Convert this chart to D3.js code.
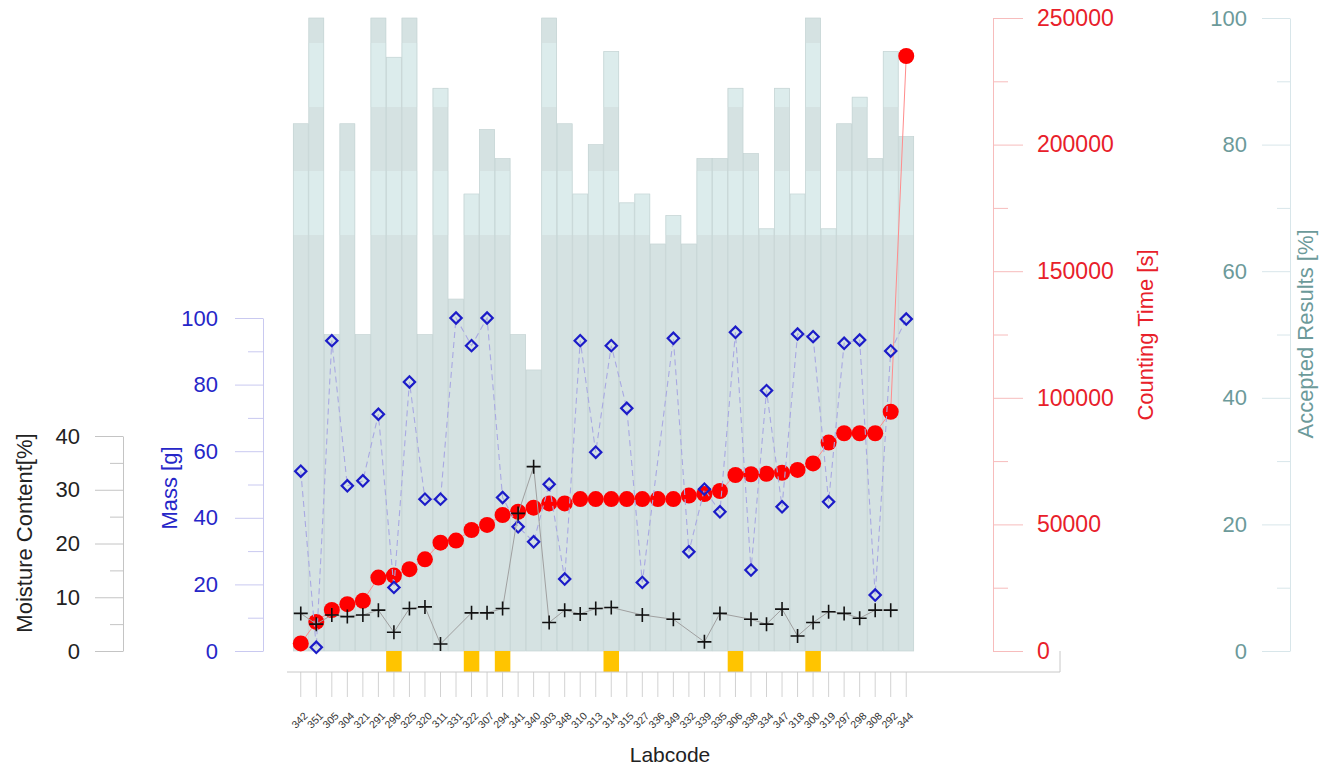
<!DOCTYPE html>
<html>
<head>
<meta charset="utf-8">
<script src="https://cdn.jsdelivr.net/npm/d3@7"></script>
<style>
  html, body { margin: 0; padding: 0; background: #fff; }
  svg { display: block; font-family: "Liberation Sans", Arial, sans-serif; }
</style>
</head>
<body>
<svg id="chart" width="1331" height="768"></svg>
<script>
// Laboratory codes, in the order they are plotted
const labcodes = ["342","351","305","304","321","291","296","325","320","311","331","322","307","294","341","340","303","348","310","313",
                  "314","315","327","336","349","332","339","335","306","338","334","347","318","300","319","297","298","308","292","344"];

// Accepted results per laboratory [%]
const accepted = [83.3,100,50,83.3,50,100,93.8,100,50,88.9,55.6,72.2,82.4,77.8,50,44.4,100,83.3,72.2,80,
                  94.7,70.8,72.2,64.3,68.8,64.3,77.8,77.8,88.9,78.6,66.7,88.9,72.2,100,66.7,83.3,87.5,77.8,94.7,81.3];

// Counting time [s]
const countingTime = [3000,11500,16200,18500,19800,29000,29800,32300,36200,42800,43600,47800,49800,53700,55000,56600,58300,58300,60000,60000,
                      60000,60000,60000,60000,60000,61400,62000,63200,69500,69800,70000,70400,71500,74100,82300,86000,86000,86000,94500,235000];

// Sample mass [g] (null = not reported)
const mass = [54.0,1.1,93.2,49.6,51.1,71.1,19.1,80.8,45.6,45.6,100,91.7,100,46.1,37.3,32.8,50.1,21.6,93.2,59.7,
              91.7,72.9,20.6,null,93.9,29.8,48.6,41.8,95.7,24.3,78.2,43.3,95.2,94.4,44.8,92.4,93.4,16.8,90.1,99.7];

// Moisture content [%] (null = not reported)
const moisture = [7.0,5.0,6.7,6.4,6.7,7.6,3.5,7.9,8.2,1.3,null,7.1,7.1,7.9,25.6,34.3,5.3,7.6,6.9,7.9,
                  8.1,null,6.7,null,5.9,null,1.7,7.0,null,5.9,5.0,7.8,2.8,5.3,7.3,7.0,6.1,7.6,7.6,null];

// Laboratories marked on the category axis
const flagged = ["296","322","294","314","306","300"];

// Axis ticks
const moistureTicks = [0,10,20,30,40], moistureMinor = [5,15,25,35];
const massTicks = [0,20,40,60,80,100], massMinor = [10,30,50,70,90];
const timeTicks = [0,50000,100000,150000,200000,250000], timeMinor = [25000,75000,125000,175000,225000];
const accTicks = [0,20,40,60,80,100], accMinor = [10,30,50,70,90];

const svg = d3.select("#chart");

const x = d3.scaleBand().domain(labcodes).range([293, 914]).padding(0);
const yAcc = d3.scaleLinear().domain([0, 100]).range([651, 18]);
const yTime = d3.scaleLinear().domain([0, 250000]).range([651, 18]);
const yMass = d3.scaleLinear().domain([0, 100]).range([651, 318]);
const yMoist = d3.scaleLinear().domain([0, 40]).range([651, 436]);

const cx = d => x(d) + x.bandwidth() / 2;

// ---- Accepted results bars ----
const defs = svg.append("defs");
const clip = defs.append("clipPath").attr("id", "barsClip");
clip.selectAll("rect").data(labcodes).join("rect")
  .attr("x", d => x(d)).attr("width", x.bandwidth())
  .attr("y", (d, i) => yAcc(accepted[i])).attr("height", (d, i) => yAcc(0) - yAcc(accepted[i]));

svg.append("g").selectAll("rect").data(labcodes).join("rect")
  .attr("x", d => x(d)).attr("width", x.bandwidth())
  .attr("y", (d, i) => yAcc(accepted[i])).attr("height", (d, i) => yAcc(0) - yAcc(accepted[i]))
  .attr("fill", "#d5e2e2");

// lighter shading bands across the upper part of the bars
const bands = svg.append("g").attr("clip-path", "url(#barsClip)");
[[43, 107], [171, 235]].forEach(([a, b]) => {
  bands.append("rect").attr("x", 293).attr("width", 621).attr("y", a).attr("height", b - a).attr("fill", "#dcecec");
});

// bar outlines
svg.append("g").selectAll("rect").data(labcodes).join("rect")
  .attr("x", d => x(d) + 0.3).attr("width", x.bandwidth() - 0.6)
  .attr("y", (d, i) => yAcc(accepted[i])).attr("height", (d, i) => yAcc(0) - yAcc(accepted[i]))
  .attr("fill", "none").attr("stroke", "#c6d5d5").attr("stroke-width", 0.7);

// ---- flagged laboratory markers ----
svg.append("g").selectAll("rect").data(flagged).join("rect")
  .attr("x", d => x(d)).attr("width", x.bandwidth())
  .attr("y", 651).attr("height", 21)
  .attr("fill", "#ffc400");

// ---- category axis ----
const xAxis = svg.append("g").attr("transform", "translate(0,672)")
  .call(d3.axisBottom(x).tickSize(25).tickSizeOuter(0).tickFormat(""));
xAxis.select(".domain").remove();
xAxis.selectAll(".tick line").attr("stroke", "#d2d2d2");
svg.append("line").attr("x1", 287).attr("x2", 1060).attr("y1", 672).attr("y2", 672).attr("stroke", "#c8c8c8");
svg.append("line").attr("x1", 1060).attr("x2", 1060).attr("y1", 651).attr("y2", 672).attr("stroke", "#c8c8c8");

svg.append("g").selectAll("text").data(labcodes).join("text")
  .attr("transform", d => `translate(${cx(d) + 5},${714}) rotate(-45)`)
  .attr("text-anchor", "end").attr("dy", "0.35em")
  .attr("font-size", 10.5).attr("fill", "#333")
  .text(d => d);

svg.append("text").attr("x", 670).attr("y", 762).attr("text-anchor", "middle")
  .attr("font-size", 21).attr("fill", "#222").text("Labcode");

// ---- counting time line and dots ----
const timeLine = d3.line().x((d, i) => cx(labcodes[i])).y(d => yTime(d));
svg.append("path").datum(countingTime).attr("d", timeLine)
  .attr("fill", "none").attr("stroke", "#ff8c8c").attr("stroke-width", 1);
svg.append("g").selectAll("circle").data(countingTime).join("circle")
  .attr("cx", (d, i) => cx(labcodes[i])).attr("cy", d => yTime(d)).attr("r", 8)
  .attr("fill", "#ff0000");

// ---- mass dashed line and diamonds ----
const massPts = mass.map((v, i) => ({ k: labcodes[i], v })).filter(p => p.v !== null);
svg.append("path").datum(massPts)
  .attr("d", d3.line().x(p => cx(p.k)).y(p => yMass(p.v)))
  .attr("fill", "none").attr("stroke", "#a9a9e2").attr("stroke-width", 1.1).attr("stroke-dasharray", "6,4");
svg.append("g").selectAll("path").data(massPts).join("path")
  .attr("d", d3.symbol(d3.symbolSquare, 64))
  .attr("transform", p => `translate(${cx(p.k)},${yMass(p.v)}) rotate(45)`)
  .attr("fill", "none").attr("stroke", "#1c1cc8").attr("stroke-width", 2.2);

// ---- moisture line and crosses ----
const moistPts = moisture.map((v, i) => ({ k: labcodes[i], v })).filter(p => p.v !== null);
svg.append("path").datum(moistPts)
  .attr("d", d3.line().x(p => cx(p.k)).y(p => yMoist(p.v)))
  .attr("fill", "none").attr("stroke", "#a0a0a0").attr("stroke-width", 1);
svg.append("g").selectAll("path").data(moistPts).join("path")
  .attr("transform", p => `translate(${cx(p.k)},${yMoist(p.v)})`)
  .attr("d", "M-7,0H7M0,-7V7")
  .attr("stroke", "#111").attr("stroke-width", 1.6).attr("fill", "none");

// ---- value axes ----
function styleAxis(g, lineColor, textColor, fontSize) {
  g.select(".domain").attr("stroke", lineColor);
  g.selectAll(".tick line").attr("stroke", lineColor);
  g.selectAll(".tick text").attr("fill", textColor).attr("font-size", fontSize)
    .attr("font-family", "'Liberation Sans', Arial, sans-serif");
}
function minor(g, lineColor) {
  g.select(".domain").remove();
  g.selectAll(".tick line").attr("stroke", lineColor);
}

// moisture content
const mC = "#c4c4c4";
svg.append("g").attr("transform", "translate(123,0)")
  .call(d3.axisLeft(yMoist).tickValues(moistureTicks).tickSize(28).tickSizeOuter(0).tickPadding(15))
  .call(g => styleAxis(g, mC, "#222", 22));
svg.append("g").attr("transform", "translate(123,0)")
  .call(d3.axisLeft(yMoist).tickValues(moistureMinor).tickSize(13).tickFormat(""))
  .call(g => minor(g, mC));
svg.append("text").attr("transform", "translate(32,533) rotate(-90)").attr("text-anchor", "middle")
  .attr("font-size", 22).attr("fill", "#222").text("Moisture Content[%]");

// mass
const bC = "#c9c9f0";
svg.append("g").attr("transform", "translate(263,0)")
  .call(d3.axisLeft(yMass).tickValues(massTicks).tickSize(28).tickSizeOuter(0).tickPadding(17))
  .call(g => styleAxis(g, bC, "#2626c8", 22));
svg.append("g").attr("transform", "translate(263,0)")
  .call(d3.axisLeft(yMass).tickValues(massMinor).tickSize(15).tickFormat(""))
  .call(g => minor(g, bC));
svg.append("text").attr("transform", "translate(177,488) rotate(-90)").attr("text-anchor", "middle")
  .attr("font-size", 22).attr("fill", "#2626c8").text("Mass [g]");

// counting time
const rC = "#f7bcbc";
svg.append("g").attr("transform", "translate(993,0)")
  .call(d3.axisRight(yTime).tickValues(timeTicks).tickSize(30).tickSizeOuter(0).tickPadding(14).tickFormat(d3.format("d")))
  .call(g => styleAxis(g, rC, "#e8202a", 23));
svg.append("g").attr("transform", "translate(993,0)")
  .call(d3.axisRight(yTime).tickValues(timeMinor).tickSize(15).tickFormat(""))
  .call(g => minor(g, rC));
svg.append("text").attr("transform", "translate(1153,335) rotate(-90)").attr("text-anchor", "middle")
  .attr("font-size", 22).attr("fill", "#e8202a").text("Counting Time [s]");

// accepted results
const aC = "#d8e6ea";
svg.append("g").attr("transform", "translate(1290,0)")
  .call(d3.axisLeft(yAcc).tickValues(accTicks).tickSize(28).tickSizeOuter(0).tickPadding(15))
  .call(g => styleAxis(g, aC, "#6c9a9a", 22));
svg.append("g").attr("transform", "translate(1290,0)")
  .call(d3.axisLeft(yAcc).tickValues(accMinor).tickSize(13).tickFormat(""))
  .call(g => minor(g, aC));
svg.append("text").attr("transform", "translate(1313,334) rotate(-90)").attr("text-anchor", "middle")
  .attr("font-size", 22).attr("fill", "#6c9a9a").text("Accepted Results [%]");
</script>
</body>
</html>
